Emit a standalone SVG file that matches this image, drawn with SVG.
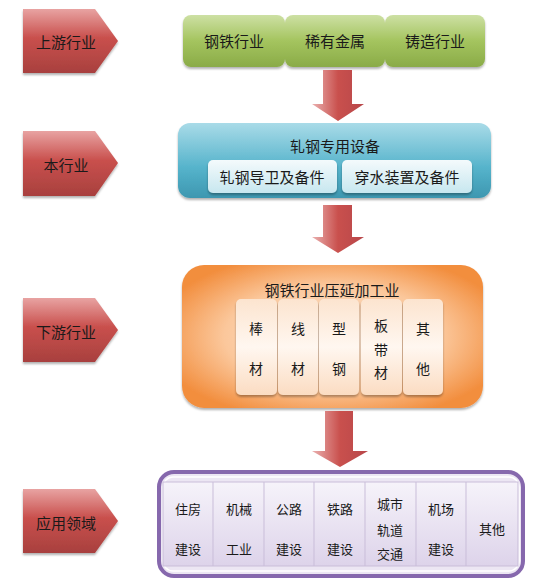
<svg xmlns="http://www.w3.org/2000/svg" width="539" height="582" viewBox="0 0 539 582">
<defs>
<linearGradient id="gRed" x1="0" y1="0" x2="0" y2="1">
<stop offset="0" stop-color="#e8a3a2"/><stop offset="0.45" stop-color="#c9504d"/><stop offset="1" stop-color="#a8403e"/>
</linearGradient>
<linearGradient id="gArrow" x1="0" y1="0" x2="1" y2="0">
<stop offset="0" stop-color="#eab0af"/><stop offset="0.5" stop-color="#c9504d"/><stop offset="1" stop-color="#b8474a"/>
</linearGradient>
<linearGradient id="gGreen" x1="0" y1="0" x2="0" y2="1">
<stop offset="0" stop-color="#cde0a4"/><stop offset="0.5" stop-color="#a4c45e"/><stop offset="1" stop-color="#8aab48"/>
</linearGradient>
<linearGradient id="gBlue" x1="0" y1="0" x2="0" y2="1">
<stop offset="0" stop-color="#a9dbe8"/><stop offset="0.6" stop-color="#55b3cb"/><stop offset="1" stop-color="#3d97b0"/>
</linearGradient>
<linearGradient id="gBlueSub" x1="0" y1="0" x2="0" y2="1">
<stop offset="0" stop-color="#f4fafc"/><stop offset="1" stop-color="#c7e7ef"/>
</linearGradient>
<radialGradient id="gOrange" cx="0.5" cy="0.5" r="0.6">
<stop offset="0" stop-color="#fde9d9"/><stop offset="0.6" stop-color="#fbc79b"/><stop offset="1" stop-color="#f28e3e"/>
</radialGradient>
<linearGradient id="gOrSub" x1="0" y1="0" x2="0" y2="1">
<stop offset="0" stop-color="#fce4cf"/><stop offset="0.5" stop-color="#fff7f0"/><stop offset="1" stop-color="#fbdcc2"/>
</linearGradient>
<linearGradient id="gPurple" x1="0" y1="0" x2="0" y2="1">
<stop offset="0" stop-color="#f6f3fa"/><stop offset="1" stop-color="#ddd3ea"/>
</linearGradient>
<filter id="sh" x="-10%" y="-10%" width="120%" height="130%">
<feDropShadow dx="0" dy="2" stdDeviation="1.2" flood-color="#000" flood-opacity="0.3"/>
</filter>
</defs>
<style>
text{font-family:"Noto Sans CJK SC","Noto Sans CJK JP",sans-serif;fill:#1a1a1a;text-anchor:middle;dominant-baseline:central}
.lbl{font-size:15px}
.sm{font-size:14px}
.xs{font-size:13px}
.pent{fill:url(#gRed);filter:url(#sh)}
.arrow{fill:url(#gArrow)}
.div{stroke:#c9bdd9;stroke-width:1}
</style>

<g id="lbl-upstream">
<polygon class="pent" points="23,9 95,9 118,41 95,73 23,73"/>
<text class="lbl" x="66" y="41">上游行业</text>
</g>
<g id="lbl-industry">
<polygon class="pent" points="23,131 95,131 118,163 95,196 23,196"/>
<text class="lbl" x="66" y="164">本行业</text>
</g>
<g id="lbl-downstream">
<polygon class="pent" points="23,298 95,298 118,330 95,362 23,362"/>
<text class="lbl" x="66" y="331">下游行业</text>
</g>
<g id="lbl-application">
<polygon class="pent" points="23,489 95,489 118,521 95,553 23,553"/>
<text class="lbl" x="66" y="522">应用领域</text>
</g>

<g id="upstream">
<g filter="url(#sh)">
<rect x="183" y="15" width="102" height="52" rx="8" fill="url(#gGreen)"/>
<rect x="285" y="15" width="100" height="52" rx="8" fill="url(#gGreen)"/>
<rect x="385" y="15" width="100" height="52" rx="8" fill="url(#gGreen)"/>
</g>
<text class="lbl" x="234" y="40">钢铁行业</text>
<text class="lbl" x="335" y="40">稀有金属</text>
<text class="lbl" x="435" y="40">铸造行业</text>
</g>

<g id="industry">
<rect x="178" y="123" width="313" height="75" rx="12" fill="url(#gBlue)" filter="url(#sh)"/>
<text class="lbl" x="335" y="145">轧钢专用设备</text>
<g filter="url(#sh)">
<rect x="208" y="160" width="129" height="33" rx="5" fill="url(#gBlueSub)"/>
<rect x="342" y="160" width="130" height="33" rx="5" fill="url(#gBlueSub)"/>
</g>
<text class="lbl" x="272" y="176">轧钢导卫及备件</text>
<text class="lbl" x="407" y="176">穿水装置及备件</text>
</g>

<g id="downstream">
<rect x="182" y="265" width="301" height="143" rx="22" fill="url(#gOrange)" filter="url(#sh)"/>
<text class="lbl" x="332" y="289">钢铁行业压延加工业</text>
<g filter="url(#sh)">
<rect x="236" y="299" width="41" height="96" rx="5" fill="url(#gOrSub)"/>
<rect x="278" y="299" width="40" height="96" rx="5" fill="url(#gOrSub)"/>
<rect x="319" y="299" width="40" height="96" rx="5" fill="url(#gOrSub)"/>
<rect x="361" y="299" width="41" height="96" rx="5" fill="url(#gOrSub)"/>
<rect x="403" y="299" width="40" height="96" rx="5" fill="url(#gOrSub)"/>
</g>
<text class="sm" x="256" y="328">棒</text><text class="sm" x="256" y="368">材</text>
<text class="sm" x="298" y="328">线</text><text class="sm" x="298" y="368">材</text>
<text class="sm" x="339" y="328">型</text><text class="sm" x="339" y="368">钢</text>
<text class="sm" x="381" y="325">板</text><text class="sm" x="381" y="349">带</text><text class="sm" x="381" y="372">材</text>
<text class="sm" x="423" y="328">其</text><text class="sm" x="423" y="368">他</text>
</g>

<g id="application">
<rect x="159" y="472" width="364" height="104" rx="15" fill="#ece6f3" stroke="#8668ad" stroke-width="4"/>
<rect x="163" y="477" width="356" height="94" rx="10" fill="none" stroke="#ffffff" stroke-width="1.5"/>
<rect x="163" y="482" width="355" height="84" fill="url(#gPurple)" stroke="#c9bdd9" stroke-width="1"/>
<line class="div" x1="213" y1="482" x2="213" y2="566"/>
<line class="div" x1="264" y1="482" x2="264" y2="566"/>
<line class="div" x1="314" y1="482" x2="314" y2="566"/>
<line class="div" x1="365" y1="482" x2="365" y2="566"/>
<line class="div" x1="416" y1="482" x2="416" y2="566"/>
<line class="div" x1="466" y1="482" x2="466" y2="566"/>
<text class="xs" x="188" y="508">住房</text><text class="xs" x="188" y="548">建设</text>
<text class="xs" x="239" y="508">机械</text><text class="xs" x="239" y="548">工业</text>
<text class="xs" x="289" y="508">公路</text><text class="xs" x="289" y="548">建设</text>
<text class="xs" x="340" y="508">铁路</text><text class="xs" x="340" y="548">建设</text>
<text class="xs" x="390" y="503">城市</text><text class="xs" x="390" y="529">轨道</text><text class="xs" x="390" y="553">交通</text>
<text class="xs" x="441" y="508">机场</text><text class="xs" x="441" y="548">建设</text>
<text class="xs" x="492" y="528">其他</text>
</g>

<g id="connectors">
<polygon class="arrow" points="323,70 352,70 352,104 364,104 338,121 312,104 323,104"/>
<polygon class="arrow" points="323,205 352,205 352,237 364,237 338,253 312,237 323,237"/>
<polygon class="arrow" points="325,411 353,411 353,451 368,451 340,467 312,451 325,451"/>
</g>
</svg>
